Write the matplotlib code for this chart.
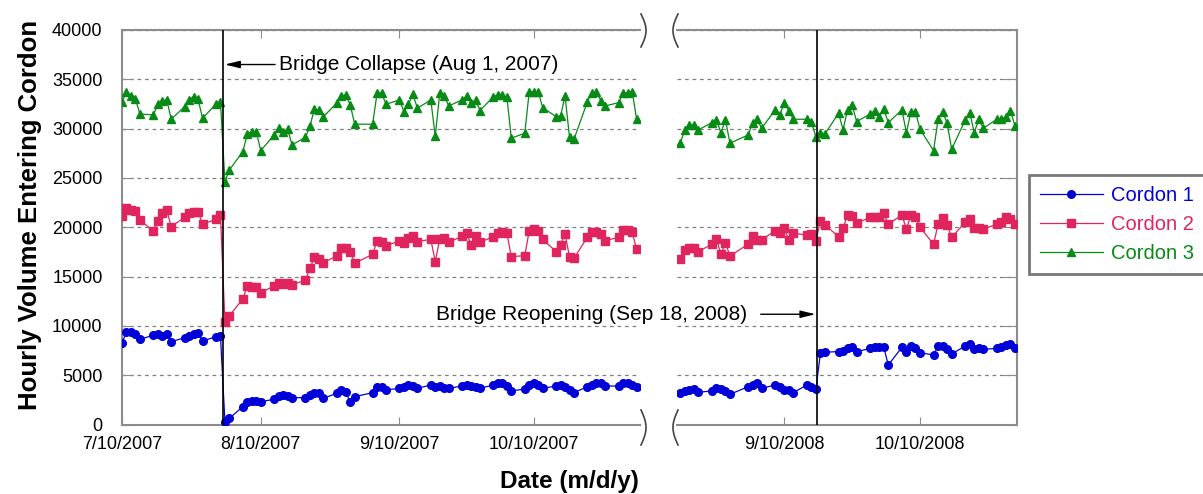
import numpy as np
import pandas as pd
import matplotlib
matplotlib.use('Agg')
import matplotlib.pyplot as plt
from matplotlib.lines import Line2D

plt.rcParams['font.family'] = ['Liberation Sans', 'DejaVu Sans']

# ---- data: 2007 (before / after collapse) ----
dates_2007 = ['7/10', '7/11', '7/12', '7/13', '7/14',
              '7/17', '7/18', '7/19', '7/20', '7/21',
              '7/24', '7/25', '7/26', '7/27', '7/28',
              '7/31', '8/1', '8/2', '8/3',
              '8/6', '8/7', '8/8', '8/9', '8/10',
              '8/13', '8/14', '8/15', '8/16', '8/17',
              '8/20', '8/21', '8/22', '8/23', '8/24',
              '8/27', '8/28', '8/29', '8/30', '8/31',
              '9/4', '9/5', '9/6', '9/7',
              '9/10', '9/11', '9/12', '9/13', '9/14',
              '9/17', '9/18', '9/19', '9/20', '9/21',
              '9/24', '9/25', '9/26', '9/27', '9/28',
              '10/1', '10/2', '10/3', '10/4', '10/5',
              '10/8', '10/9', '10/10', '10/11', '10/12',
              '10/15', '10/16', '10/17', '10/18', '10/19',
              '10/22', '10/23', '10/24', '10/25', '10/26',
              '10/29', '10/30', '10/31', '11/1', '11/2']

cordon1_2007 = [8300, 9350, 9350, 9150, 8640,
                9050, 9150, 9010, 9180, 8400,
                8800, 9010, 9180, 9250, 8470,
                8900, 9010, 280, 630,
                1810, 2250, 2410, 2410, 2310,
                2560, 2890, 2990, 2890, 2720,
                2720, 2990, 3160, 3160, 2660,
                3160, 3500, 3330, 2250, 2820,
                3230, 3830, 3830, 3500,
                3670, 3830, 4010, 3900, 3670,
                4010, 3770, 3900, 3670, 3670,
                3900, 4010, 3900, 3830, 3670,
                4010, 4180, 4180, 3900, 3430,
                3570, 4010, 4180, 4010, 3670,
                3900, 4010, 3830, 3500, 3230,
                3830, 4010, 4180, 4180, 3900,
                3900, 4180, 4180, 4010, 3830]

cordon2_2007 = [21180, 21930, 21750, 21650, 20740,
                19620, 20640, 21420, 21750, 20060,
                21010, 21480, 21580, 21580, 20300,
                20810, 21250, 10430, 11030,
                12730, 14050, 13980, 13980, 13370,
                14050, 14380, 14220, 14380, 14150,
                14650, 15840, 16960, 16750, 16410,
                17090, 17930, 17930, 17530, 16350,
                17260, 18610, 18540, 18130,
                18610, 18440, 18880, 19120, 18540,
                18780, 16510, 18810, 18880, 18480,
                19080, 19390, 18200, 19150, 18480,
                19050, 19390, 19560, 19390, 17020,
                17120, 19660, 19800, 19660, 18780,
                17530, 18200, 19320, 17020, 16860,
                18990, 19560, 19560, 19290, 18640,
                18990, 19730, 19730, 19490, 17770]

cordon3_2007 = [32740, 33690, 33320, 33010, 31490,
                31390, 32470, 32840, 32910, 30950,
                32230, 32910, 33250, 32980, 31050,
                32500, 32740, 24620, 25810,
                27670, 29460, 29700, 29700, 27770,
                29360, 30040, 29700, 29940, 28350,
                29130, 30270, 31970, 31900, 31220,
                32580, 33320, 33420, 32400, 30450,
                30450, 33590, 33590, 32470,
                32910, 31720, 32470, 33490, 32070,
                32910, 29260, 33590, 33320, 32300,
                32910, 33320, 32580, 32910, 31830,
                33250, 33420, 33420, 33190, 29030,
                29530, 33750, 33750, 33750, 32130,
                31220, 31290, 33320, 29130, 28920,
                32740, 33650, 33750, 32840, 32300,
                32640, 33650, 33590, 33750, 30950]

# ---- data: 2008 (before / after reopening) ----
dates_2008 = ['8/18', '8/19', '8/20', '8/21', '8/22',
              '8/25', '8/26', '8/27', '8/28', '8/29',
              '9/2', '9/3', '9/4', '9/5',
              '9/8', '9/9', '9/10', '9/11', '9/12',
              '9/15', '9/16', '9/17', '9/18', '9/19',
              '9/22', '9/23', '9/24', '9/25', '9/26',
              '9/29', '9/30', '10/1', '10/2', '10/3',
              '10/6', '10/7', '10/8', '10/9', '10/10',
              '10/13', '10/14', '10/15', '10/16', '10/17',
              '10/20', '10/21', '10/22', '10/23', '10/24',
              '10/27', '10/28', '10/29', '10/30', '10/31']

cordon1_2008 = [3160, 3400, 3500, 3570, 3270,
                3400, 3670, 3600, 3400, 3060,
                3830, 4010, 4180, 3670,
                4010, 3830, 3500, 3500, 3230,
                4010, 3830, 3570, 7280, 7320,
                7400, 7450, 7750, 7850, 7380,
                7720, 7890, 7890, 7830, 6030,
                7830, 7380, 7960, 7720, 7280,
                7050, 7960, 7960, 7620, 7150,
                7960, 8160, 7620, 7720, 7620,
                7720, 7830, 8060, 8160, 7720]

cordon2_2008 = [16750, 17700, 17870, 17870, 17530,
                18280, 18810, 17260, 18380, 17090,
                18280, 19120, 18710, 18710,
                19660, 19390, 19900, 18710, 19390,
                19220, 19320, 18640, 20670, 20230,
                19050, 19900, 21250, 21150, 20400,
                21010, 21010, 21080, 21420, 20300,
                21250, 19800, 21250, 21010, 20000,
                18280, 20300, 20910, 20230, 18990,
                20510, 20810, 19900, 19900, 19800,
                20330, 20510, 21010, 20810, 20330]

cordon3_2008 = [28520, 29870, 30370, 30370, 29870,
                30610, 30880, 29590, 30880, 28520,
                29360, 30540, 30950, 30040,
                31900, 31390, 32580, 31830, 30950,
                30950, 30710, 29130, 29590, 29460,
                31560, 29900, 31900, 32400, 30710,
                31490, 31830, 31220, 31970, 30610,
                31900, 29590, 31720, 31720, 29940,
                27770, 30950, 31720, 30540, 27910,
                30880, 31620, 29590, 30950, 30040,
                30950, 30950, 31220, 31830, 30270]

series_names = ['Cordon 1', 'Cordon 2', 'Cordon 3']
colors = ['#0000D8', '#E0245E', '#088A16']
markers = ['o', 's', '^']
msizes = [5.5, 5.5, 6.2]

ticks_2007 = ['7/10/2007', '8/10/2007', '9/10/2007', '10/10/2007']
ticks_2008 = ['9/10/2008', '10/10/2008']


def to_dt(md_list, year):
    return pd.to_datetime([f'{year}/{d}' for d in md_list], format='%Y/%m/%d')


x07 = to_dt(dates_2007, 2007)
x08 = to_dt(dates_2008, 2008)

fig = plt.figure(figsize=(12.03, 4.94), dpi=100)
W, H = 1203, 494
ax1 = fig.add_axes([122 / W, 69.5 / H, 518 / W, 394.5 / H])
ax2 = fig.add_axes([677 / W, 69.5 / H, 339.5 / W, 394.5 / H])

for ax, x, ys in [(ax1, x07, [cordon1_2007, cordon2_2007, cordon3_2007]),
                  (ax2, x08, [cordon1_2008, cordon2_2008, cordon3_2008])]:
    for y, c, m, ms, name in zip(ys, colors, markers, msizes, series_names):
        ax.plot(x, y, color=c, marker=m, ms=ms, mec=c, lw=0.9, label=name, zorder=3)
    ax.set_ylim(0, 40000)
    ax.set_yticks(np.arange(0, 40001, 5000))
    ax.yaxis.grid(True, linestyle=(0, (3, 3)), color='#808080', lw=0.9)
    ax.set_axisbelow(True)
    for s in ax.spines.values():
        s.set_color('#8c8c8c')
        s.set_linewidth(1.5)
    ax.tick_params(axis='x', direction='in', top=True, bottom=True, length=6,
                   color='#8c8c8c', labelsize=13, pad=8)

ax1.spines['right'].set_visible(False)
ax2.spines['left'].set_visible(False)

ax1.set_xlim(pd.Timestamp('2007-07-10'), pd.Timestamp('2007-11-02 18:00'))
ax2.set_xlim(pd.Timestamp('2008-08-17 07:00'), pd.Timestamp('2008-10-31 08:00'))

ax1.set_xticks(pd.to_datetime(ticks_2007, format='%m/%d/%Y'))
ax1.set_xticklabels(ticks_2007)
ax2.set_xticks(pd.to_datetime(ticks_2008, format='%m/%d/%Y'))
ax2.set_xticklabels(ticks_2008)

ax1.tick_params(axis='y', direction='in', length=8, color='#8c8c8c', labelsize=13, pad=14)
ax2.tick_params(axis='y', left=False, right=True, labelleft=False, direction='in',
                length=10, color='#8c8c8c')

# event lines and annotations
collapse = pd.Timestamp('2007-08-01 16:00')
reopen = pd.Timestamp('2008-09-17 05:00')
ax1.axvline(collapse, color='black', lw=1.2, zorder=4)
ax2.axvline(reopen, color='black', lw=1.2, zorder=4)

arrow = dict(arrowstyle='-|>,head_length=0.9,head_width=0.22', color='black', lw=1,
             shrinkA=0, shrinkB=1)
ax1.annotate('', xy=(collapse, 36500), xytext=(pd.Timestamp('2007-08-13 05:00'), 36500),
             arrowprops=arrow)
ax1.text(pd.Timestamp('2007-08-14 03:00'), 36500, 'Bridge Collapse (Aug 1, 2007)',
         fontsize=15, va='center', ha='left')
ax2.annotate('', xy=(reopen, 11180), xytext=(pd.Timestamp('2008-09-04 19:00'), 11180),
             arrowprops=arrow)
ax2.text(pd.Timestamp('2008-09-01 17:00'), 11180, 'Bridge Reopening (Sep 18, 2008)',
         fontsize=15, va='center', ha='right')


# axis break braces
def brace(x0, y0, y1, bulge):
    t = np.linspace(0, 1, 40)
    xs = x0 + bulge * np.sin(np.pi * t)
    ys = y0 + (y1 - y0) * t
    fig.add_artist(Line2D(xs / W, 1 - ys / H, transform=fig.transFigure,
                          color='#444444', lw=1.2))


brace(641, 14, 47, 5)
brace(678, 14, 47, -5)
brace(641, 410, 445, 5)
brace(678, 410, 445, -5)

fig.text(569 / W, 1 - 481 / H, 'Date (m/d/y)', ha='center', va='center',
         fontsize=17.5, fontweight='bold')
fig.text(30 / W, 1 - 215 / H, 'Hourly Volume Entering Cordon', ha='center', va='center',
         rotation=90, fontsize=18.5, fontweight='bold')

handles, labels = ax1.get_legend_handles_labels()
leg = fig.legend(handles, labels, loc='upper left', bbox_to_anchor=(1029 / W, 1 - 174.7 / H),
                 frameon=True, fancybox=False, edgecolor='#555555', fontsize=14.5,
                 labelcolor='linecolor', handlelength=3.1, handletextpad=0.4,
                 borderpad=0.55, labelspacing=0.5, borderaxespad=0)
leg.get_frame().set_linewidth(2)

fig.savefig('out.png', dpi=100)
